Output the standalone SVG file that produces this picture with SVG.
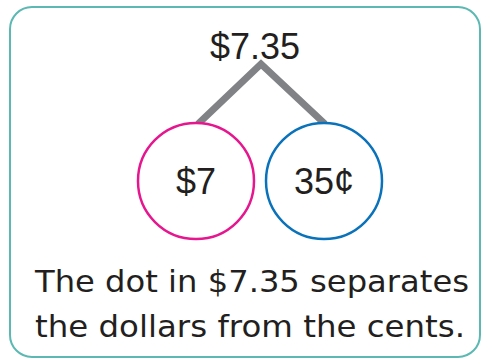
<svg xmlns="http://www.w3.org/2000/svg" width="482" height="360" viewBox="0 0 482 360">
<style>
.lbl{font-family:"Liberation Sans",Arial,sans-serif;font-size:36px;fill:#231f20;text-anchor:middle}
.cap{font-family:"DejaVu Sans","Liberation Sans",sans-serif;font-size:30px;fill:#231f20}
</style>
<rect x="10" y="7" width="470" height="350" rx="22" fill="#ffffff" stroke="#5cb8b2" stroke-width="2"/>
<g id="connectors" stroke="#808285" stroke-width="7" fill="none" stroke-linejoin="miter">
<polyline points="198,124 261,64 325,124"/>
</g>
<g id="top"><text class="lbl" x="255" y="59">$7.35</text></g>
<g id="dollars">
<circle cx="196" cy="181" r="58" fill="#ffffff" stroke="#e6168f" stroke-width="2.5"/>
<text class="lbl" x="196" y="194">$7</text>
</g>
<g id="cents">
<circle cx="324" cy="181" r="58" fill="#ffffff" stroke="#0a72ba" stroke-width="2.5"/>
<text class="lbl" x="324" y="194">35¢</text>
</g>
<g id="caption">
<text class="cap" x="35" y="292" textLength="434" lengthAdjust="spacingAndGlyphs">The dot in $7.35 separates</text>
<text class="cap" x="35" y="337" textLength="430" lengthAdjust="spacingAndGlyphs">the dollars from the cents.</text>
</g>
</svg>
